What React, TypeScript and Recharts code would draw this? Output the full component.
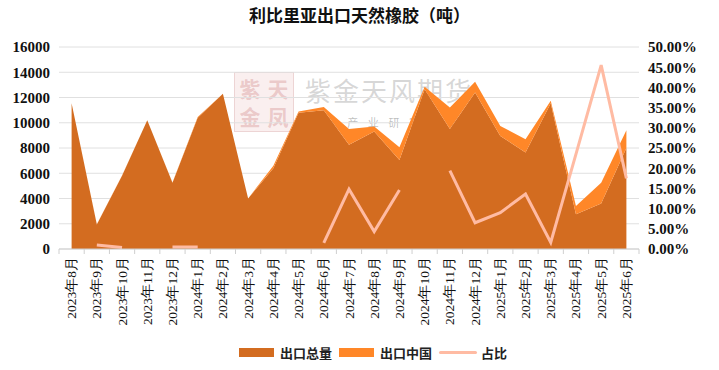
import React from 'react';
import { ComposedChart, Area, Line, XAxis, YAxis, CartesianGrid, Legend } from 'recharts';

const months = [
  '2023年8月', '2023年9月', '2023年10月', '2023年11月', '2023年12月',
  '2024年1月', '2024年2月', '2024年3月', '2024年4月', '2024年5月', '2024年6月',
  '2024年7月', '2024年8月', '2024年9月', '2024年10月', '2024年11月', '2024年12月',
  '2025年1月', '2025年2月', '2025年3月', '2025年4月', '2025年5月', '2025年6月',
];

const totalExport = [11550, 1950, 5800, 10200, 5250, 10400, 12300, 4000, 6400, 10800, 11000, 8250, 9300, 7050, 12650, 9500, 12400, 8950, 7650, 11550, 2750, 3600, 8000];
const chinaExport = [0, 20, 25, 0, 25, 50, 0, 0, 200, 100, 250, 1250, 400, 1000, 200, 1700, 850, 800, 1050, 200, 650, 1650, 1400];
const chinaShare: (number | null)[] = [null, 0.01, 0.004, null, 0.005, 0.005, null, null, null, null, 0.015, 0.148, 0.043, 0.146, null, 0.194, 0.065, 0.09, 0.136, 0.016, 0.235, 0.455, 0.175];

const leftTicks = [0, 2000, 4000, 6000, 8000, 10000, 12000, 14000, 16000];
const rightTicks = [0, 0.05, 0.1, 0.15, 0.2, 0.25, 0.3, 0.35, 0.4, 0.45, 0.5];

const seriesNames = { total: '出口总量', china: '出口中国', share: '占比' };
const colors = { total: '#D36C20', china: '#FF8728', share: '#FFBBA3' };

const data = months.map((m, i) => ({
  month: m,
  total: totalExport[i],
  china: chinaExport[i],
  share: chinaShare[i],
}));

const W = 719;
const H = 370;
const LEFT_W = 59;
const RIGHT_W = 80;
const BAND = (W - LEFT_W - RIGHT_W) / months.length;
const AXIS_COLOR = '#cfcfcf';
const SERIF = "'Liberation Serif', 'Times New Roman', serif";
const CJK = "'Noto Sans CJK SC', 'Noto Sans', sans-serif";

const XTick = (props: any) => {
  const { x, y, payload, index } = props;
  return (
    <g>
      <line x1={x - BAND / 2} x2={x - BAND / 2} y1={y} y2={y + 5} stroke={AXIS_COLOR} strokeWidth={1} />
      {index === months.length - 1 && (
        <line x1={x + BAND / 2} x2={x + BAND / 2} y1={y} y2={y + 5} stroke={AXIS_COLOR} strokeWidth={1} />
      )}
      <text
        transform={`translate(${x},${y + 8}) rotate(-90)`}
        textAnchor="end"
        dominantBaseline="central"
        fontSize={13.5}
        fontFamily={SERIF}
        fill="#111"
      >
        {payload.value}
      </text>
    </g>
  );
};

const LegendContent = () => {
  const item = (label: string, color: string, kind: 'rect' | 'line') => (
    <div style={{ display: 'flex', alignItems: 'center', marginRight: 7 }}>
      {kind === 'rect' ? (
        <div style={{ width: 35, height: 9, background: color, marginRight: 6 }} />
      ) : (
        <div style={{ width: 38, height: 3, background: color, borderRadius: 2, marginRight: 4 }} />
      )}
      <span style={{ fontFamily: CJK, fontWeight: 700, fontSize: 13, color: '#222' }}>{label}</span>
    </div>
  );
  return (
    <div style={{ height: 36, display: 'flex', justifyContent: 'center', alignItems: 'center', paddingLeft: 34 }}>
      {item(seriesNames.total, colors.total, 'rect')}
      {item(seriesNames.china, colors.china, 'rect')}
      {item(seriesNames.share, colors.share, 'line')}
    </div>
  );
};

const stampCell = (ch: string, left: number, top: number) => (
  <div
    style={{
      position: 'absolute', left, top, width: 26, height: 26, textAlign: 'center',
      fontFamily: CJK, fontSize: 21, lineHeight: '26px', color: 'rgba(200,110,110,0.3)', fontWeight: 700,
    }}
  >
    {ch}
  </div>
);

export default function App() {
  return (
    <div style={{ position: 'absolute', left: 0, top: 0, width: W, height: H, background: '#fff', overflow: 'hidden' }}>
      <div
        style={{
          position: 'absolute', left: 0, top: 4, width: W, textAlign: 'center',
          fontFamily: CJK, fontWeight: 700, fontSize: 17, lineHeight: '22px', color: '#111',
        }}
      >
        利比里亚出口天然橡胶（吨）
      </div>
      {/* watermark */}
      <div
        style={{
          position: 'absolute', left: 234, top: 72, width: 58, height: 58,
          background: 'rgba(235,190,190,0.25)', border: '1px solid rgba(210,150,150,0.3)',
        }}
      >
        {stampCell('紫', 2, 2)}
        {stampCell('天', 30, 2)}
        {stampCell('金', 2, 30)}
        {stampCell('凤', 30, 30)}
      </div>
      <div
        style={{
          position: 'absolute', left: 305, top: 75, fontFamily: CJK, fontSize: 26, lineHeight: '30px',
          letterSpacing: 2, color: 'rgba(140,140,140,0.35)',
        }}
      >
        紫金天风期货
      </div>
      <div
        style={{
          position: 'absolute', left: 306, top: 115, fontFamily: CJK, fontSize: 11, lineHeight: '14px',
          letterSpacing: 9.6, color: 'rgba(110,110,110,0.45)',
        }}
      >
        立足产业研究驱动
      </div>
      <div style={{ position: 'absolute', left: 0, top: 0 }}>
        <ComposedChart width={W} height={H} data={data} margin={{ top: 47, right: 0, bottom: 0, left: 0 }}>
          <CartesianGrid vertical={false} stroke="#e0e0e0" yAxisId="left" />
          <XAxis
            dataKey="month"
            scale="band"
            interval={0}
            height={85}
            tickSize={0}
            tickMargin={0}
            tickLine={false}
            stroke={AXIS_COLOR}
            tick={<XTick />}
          />
          <YAxis
            yAxisId="left"
            orientation="left"
            width={LEFT_W}
            domain={[0, 16000]}
            ticks={leftTicks}
            interval={0}
            axisLine={false}
            tickLine={false}
            tickSize={0}
            tickMargin={9}
            tick={{ fontFamily: SERIF, fontWeight: 700, fontSize: 15, fill: '#111' }}
          />
          <YAxis
            yAxisId="right"
            orientation="right"
            width={RIGHT_W}
            domain={[0, 0.5]}
            ticks={rightTicks}
            interval={0}
            axisLine={false}
            tickLine={false}
            tickSize={0}
            tickMargin={9}
            tickFormatter={(v: number) => (v * 100).toFixed(2) + '%'}
            tick={{ fontFamily: SERIF, fontWeight: 700, fontSize: 15, fill: '#111' }}
          />
          <Area
            yAxisId="left"
            type="linear"
            dataKey="total"
            name={seriesNames.total}
            stackId="exp"
            stroke="none"
            fill={colors.total}
            fillOpacity={1}
            isAnimationActive={false}
          />
          <Area
            yAxisId="left"
            type="linear"
            dataKey="china"
            name={seriesNames.china}
            stackId="exp"
            stroke="none"
            fill={colors.china}
            fillOpacity={1}
            isAnimationActive={false}
          />
          <Line
            yAxisId="right"
            type="linear"
            dataKey="share"
            name={seriesNames.share}
            stroke={colors.share}
            strokeWidth={3}
            dot={false}
            activeDot={false}
            connectNulls={false}
            isAnimationActive={false}
          />
          <Legend verticalAlign="bottom" height={36} content={<LegendContent />} />
        </ComposedChart>
      </div>
    </div>
  );
}
